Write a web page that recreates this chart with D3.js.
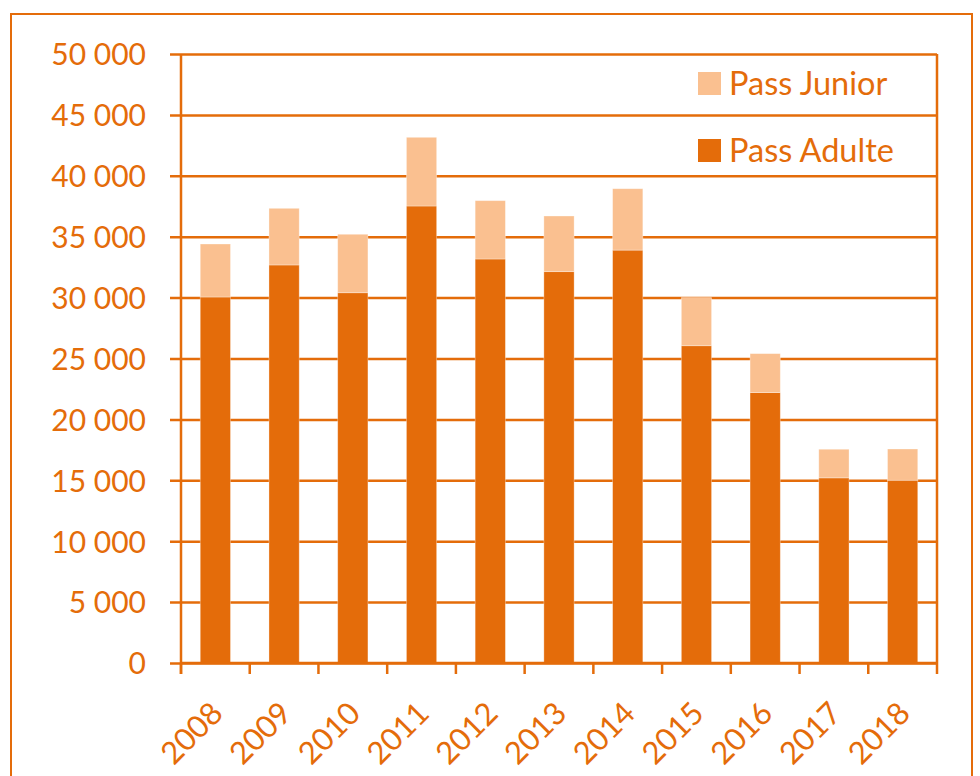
<!DOCTYPE html>
<html>
<head>
<meta charset="utf-8">
<script src="https://cdn.jsdelivr.net/npm/d3@7"></script>
<style>
  html, body { margin: 0; padding: 0; background: #fff; }
  svg { display: block; }
  text { font-family: Lato, "Open Sans", sans-serif; }
</style>
</head>
<body>
<svg id="chart" width="980" height="776"></svg>
<script>
const years = ["2008","2009","2010","2011","2012","2013","2014","2015","2016","2017","2018"];
const passAdulte = [30050, 32680, 30400, 37520, 33170, 32130, 33900, 26050, 22200, 15200, 15000];
const passJunior = [4350, 4650, 4800, 5640, 4790, 4570, 5040, 3950, 3200, 2350, 2570];
const yTicks = [0, 5000, 10000, 15000, 20000, 25000, 30000, 35000, 40000, 45000, 50000];
const seriesNames = ["Pass Junior", "Pass Adulte"];

const dark = "#E46C0A";
const light = "#FAC090";
const fontSize = 30;

const svg = d3.select("#chart");
const W = 980, H = 776;
const m = { left: 181, right: 937, top: 54, bottom: 663 };

// outer frame
svg.append("rect").attr("x", 11).attr("y", 14).attr("width", 961).attr("height", H + 20)
  .attr("fill", "none").attr("stroke", dark).attr("stroke-width", 2);

const x = d3.scaleBand().domain(years).range([m.left, m.right]).paddingInner(0.56).paddingOuter(0.28);
const xTick = d3.scaleBand().domain(years).range([m.left, m.right]);
const y = d3.scaleLinear().domain([0, 50000]).range([m.bottom, m.top]);

const fmt = v => d3.format(",")(v).replace(/,/g, " ");

// gridlines + y axis
const yAxis = d3.axisLeft(y).tickValues(yTicks).tickFormat(fmt).tickSize(-(m.right - m.left)).tickPadding(35);
const gy = svg.append("g").attr("transform", `translate(${m.left},0)`).call(yAxis);
gy.select(".domain").remove();
gy.selectAll(".tick line").attr("stroke", dark).attr("stroke-width", 2.5).attr("x1", -11);
gy.selectAll(".tick text").attr("fill", dark).style("font-size", fontSize + "px")
  .style("font-family", "Lato, sans-serif").attr("dy", "0.36em");

// stacked data
const data = years.map((yr, i) => ({ year: yr, adulte: passAdulte[i], junior: passJunior[i] }));
const stack = d3.stack().keys(["adulte", "junior"])(data);
const colors = { adulte: dark, junior: light };

svg.append("g").selectAll("g").data(stack).join("g")
  .attr("fill", d => colors[d.key])
  .selectAll("rect").data(d => d).join("rect")
  .attr("x", d => x(d.data.year))
  .attr("width", x.bandwidth())
  .attr("y", d => y(d[1]))
  .attr("height", d => y(d[0]) - y(d[1]))
  .attr("stroke", "#fff").attr("stroke-opacity", 0.4).attr("stroke-width", 0.8);

// axes lines (left, right, bottom)
svg.append("line").attr("x1", m.left).attr("x2", m.left).attr("y1", m.top).attr("y2", m.bottom + 11)
  .attr("stroke", dark).attr("stroke-width", 2.5);
svg.append("line").attr("x1", m.right).attr("x2", m.right).attr("y1", m.top).attr("y2", m.bottom)
  .attr("stroke", dark).attr("stroke-width", 2.5);

// x axis
const gx = svg.append("g").attr("transform", `translate(0,${m.bottom})`);
gx.append("line").attr("x1", m.left).attr("x2", m.right).attr("stroke", dark).attr("stroke-width", 2.5);
const tickPos = years.map(yr => xTick(yr)).concat([m.right]);
gx.selectAll("line.tk").data(tickPos).join("line").attr("class", "tk")
  .attr("x1", d => d).attr("x2", d => d).attr("y1", 0).attr("y2", 11)
  .attr("stroke", dark).attr("stroke-width", 2.5);
gx.selectAll("text").data(years).join("text")
  .attr("transform", d => `translate(${xTick(d) + xTick.bandwidth() / 2 - 6},${37}) rotate(-45)`)
  .attr("text-anchor", "end")
  .attr("dy", "0.7em")
  .attr("fill", dark)
  .style("font-size", "31px")
  .text(d => d);

// legend
const legend = svg.append("g");
const legItems = [
  { name: seriesNames[0], color: light, y: 83 },
  { name: seriesNames[1], color: dark, y: 150 }
];
legend.selectAll("rect").data(legItems).join("rect")
  .attr("x", 698).attr("y", d => d.y - 11).attr("width", 23).attr("height", 23)
  .attr("fill", d => d.color);
legend.selectAll("text").data(legItems).join("text")
  .attr("x", 729).attr("y", d => d.y).attr("dy", "0.36em")
  .attr("fill", dark).style("font-size", "32.5px")
  .text(d => d.name);
</script>
</body>
</html>
